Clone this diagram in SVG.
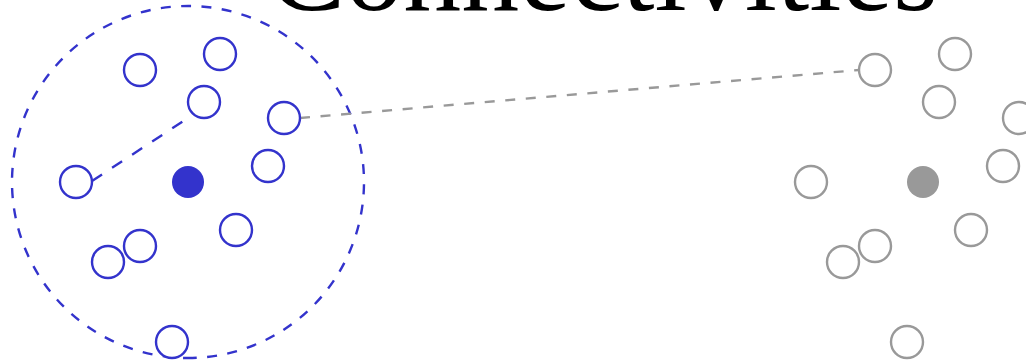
<svg xmlns="http://www.w3.org/2000/svg" width="1026" height="362" viewBox="0 0 1026 362">
  <style>
    .title { font-family: "Liberation Serif", "Times New Roman", serif; font-size: 116px; fill: #000000; }
    .bnode { fill: #ffffff; stroke: #3333cc; stroke-width: 2.4; }
    .bcenter { fill: #3333cc; stroke: none; }
    .gnode { fill: #ffffff; stroke: #999999; stroke-width: 2.4; }
    .gcenter { fill: #999999; stroke: none; }
    .ring { fill: none; stroke: #3333cc; stroke-width: 2.4; stroke-dasharray: 10 10.4; }
    .bdash { fill: none; stroke: #3333cc; stroke-width: 2.4; stroke-dasharray: 12 12; }
    .gdash { fill: none; stroke: #999999; stroke-width: 2.4; stroke-dasharray: 10 10.6; }
  </style>
  <rect x="0" y="0" width="1026" height="362" fill="#ffffff"/>
  <g id="title">
    <text class="title" x="603" y="9.5" text-anchor="middle">Connectivities</text>
  </g>
  <g id="neighbourhood">
    <path class="ring" d="M188,358 A176,176 0 0,1 188,6 A176,176 0 0,1 188,358" stroke-dashoffset="5"/>
  </g>
  <g id="connectors">
    <line class="bdash" x1="92" y1="181" x2="188" y2="118"/>
    <line class="gdash" x1="300" y1="118" x2="859" y2="70"/>
  </g>
  <g id="left-nodes">
    <circle id="L-center" class="bcenter" cx="188" cy="182" r="16"/>
    <circle id="L1" class="bnode" cx="140" cy="70" r="16"/>
    <circle id="L2" class="bnode" cx="220" cy="54" r="16"/>
    <circle id="L3" class="bnode" cx="204" cy="102" r="16"/>
    <circle id="L4" class="bnode" cx="284" cy="118" r="16"/>
    <circle id="L5" class="bnode" cx="268" cy="166" r="16"/>
    <circle id="L6" class="bnode" cx="76" cy="182" r="16"/>
    <circle id="L7" class="bnode" cx="236" cy="230" r="16"/>
    <circle id="L8" class="bnode" cx="108" cy="262" r="16"/>
    <circle id="L9" class="bnode" cx="140" cy="246" r="16"/>
    <circle id="L10" class="bnode" cx="172" cy="342" r="16"/>
  </g>
  <g id="right-nodes">
    <circle id="R-center" class="gcenter" cx="923" cy="182" r="16"/>
    <circle id="R1" class="gnode" cx="875" cy="70" r="16"/>
    <circle id="R2" class="gnode" cx="955" cy="54" r="16"/>
    <circle id="R3" class="gnode" cx="939" cy="102" r="16"/>
    <circle id="R4" class="gnode" cx="1019" cy="118" r="16"/>
    <circle id="R5" class="gnode" cx="1003" cy="166" r="16"/>
    <circle id="R6" class="gnode" cx="811" cy="182" r="16"/>
    <circle id="R7" class="gnode" cx="971" cy="230" r="16"/>
    <circle id="R8" class="gnode" cx="843" cy="262" r="16"/>
    <circle id="R9" class="gnode" cx="875" cy="246" r="16"/>
    <circle id="R10" class="gnode" cx="907" cy="342" r="16"/>
  </g>
</svg>
